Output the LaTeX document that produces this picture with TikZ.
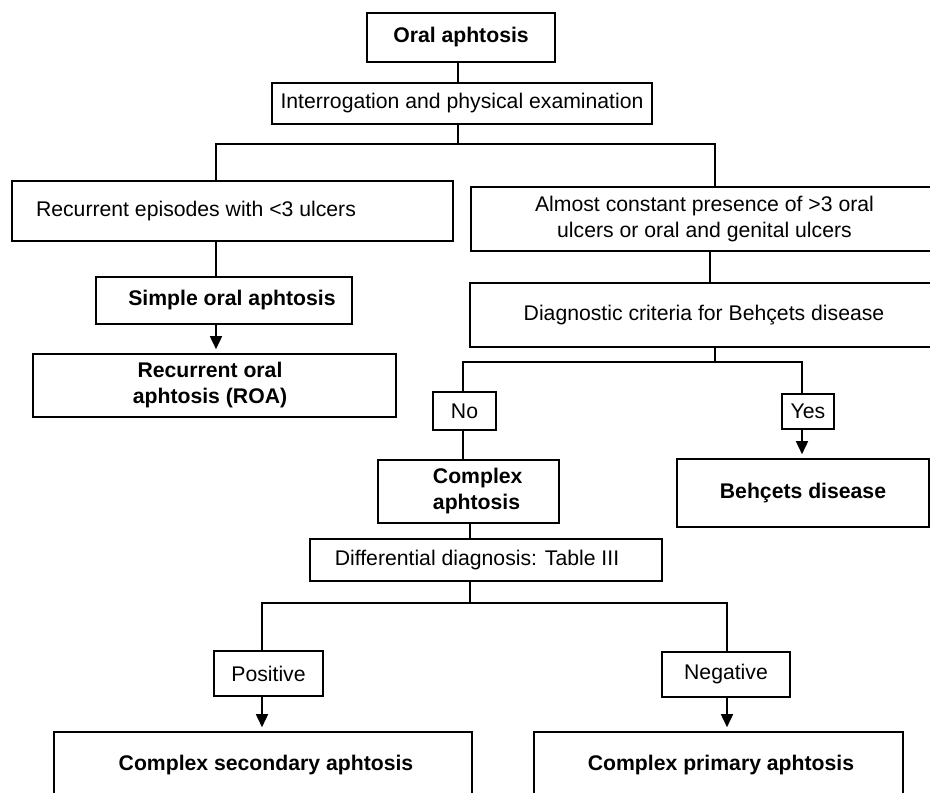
\documentclass[tikz,border=0pt]{standalone}
\usepackage{fontspec}
\setmainfont{Liberation Sans}
\usetikzlibrary{arrows.meta}
\begin{document}
\begin{tikzpicture}[x=1pt,y=-1pt,
  box/.style={draw, line width=1.6pt, inner sep=0pt, align=center, font=\fontsize{21.2pt}{26pt}\selectfont},
  bbox/.style={box, font=\fontsize{21.2pt}{26pt}\selectfont\bfseries},
  conn/.style={line width=1.6pt},
  arr/.style={conn, -{Triangle[width=12pt,length=13pt]}, shorten >=4pt}]
\useasboundingbox (0,0) rectangle (930,793);
\clip (0,0) rectangle (930,793);

% boxes
\node[bbox, minimum width=188pt, minimum height=49pt] (oral) at (461,37.5) {Oral aphtosis};
\node[box, minimum width=380pt, minimum height=41pt] (interro) at (462,103.5) {Interrogation and physical examination};
\node[box, minimum width=441pt, minimum height=60pt] (rec) at (232.5,211) {Recurrent episodes with <3 ulcers\hspace*{73pt}};
\node[box, minimum width=467pt, minimum height=64pt] (almost) at (704.5,219) {Almost constant presence of >3 oral\\ulcers or oral and genital ulcers};
\node[bbox, minimum width=256pt, minimum height=47pt] (simple) at (224,300.5) {\hspace*{16pt}Simple oral aphtosis};
\node[bbox, minimum width=363pt, minimum height=63pt] (roa) at (214.5,385.5) {Recurrent oral\hspace*{9pt}\\aphtosis (ROA)\hspace*{9pt}};
\node[box, minimum width=468pt, minimum height=64pt] (diag) at (704,315) {Diagnostic criteria for Behçets disease};
\node[box, minimum width=63pt, minimum height=38pt] (no) at (464.5,411) {No};
\node[box, minimum width=52pt, minimum height=35pt] (yes) at (808,411.5) {Yes};
\node[bbox, align=left, minimum width=181pt, minimum height=63pt] (complex) at (468.5,491.5) {\hspace*{18.5pt}Complex\\\hspace*{18.5pt}aphtosis};
\node[bbox, minimum width=252pt, minimum height=68pt] (behcet) at (803,493) {Behçets disease};
\node[box, minimum width=352pt, minimum height=42pt] (diff) at (486,560) {Differential diagnosis: Table III\hspace*{18pt}};
\node[box, minimum width=109pt, minimum height=45pt] (pos) at (268.5,673.5) {Positive};
\node[box, minimum width=128pt, minimum height=45pt] (neg) at (726,674.5) {Negative};
\node[bbox, minimum width=418pt, minimum height=66pt] (csec) at (263,765) {\hspace*{6pt}Complex secondary aphtosis};
\node[bbox, minimum width=369pt, minimum height=66pt] (cprim) at (718.5,765) {\hspace*{5pt}Complex primary aphtosis};

% junction coordinates
\coordinate (c1) at (458,144);
\coordinate (bl) at (216,144);
\coordinate (br) at (715,144);
\coordinate (xr) at (710,300);
\coordinate (c2) at (715,362);
\coordinate (nl) at (463,362);
\coordinate (nr) at (802,362);
\coordinate (c3) at (470,603);
\coordinate (pl) at (262,603);
\coordinate (pr) at (727,603);

% connectors
\draw[conn] (c1 |- oral.south) -- (c1 |- interro.north);
\draw[conn] (c1 |- interro.south) -- (c1);
\draw[conn] (rec.north -| bl) -- (bl) -- (br) -- (almost.north -| br);
\draw[conn] (rec.south -| bl) -- (simple.north -| bl);
\draw[arr] (simple.south -| bl) -- (roa.north -| bl);
\draw[conn] (almost.south -| xr) -- (diag.north -| xr);
\draw[conn] (diag.south -| c2) -- (c2);
\draw[conn] (no.north -| nl) -- (nl) -- (nr) -- (yes.north -| nr);
\draw[conn] (no.south -| nl) -- (complex.north -| nl);
\draw[arr] (yes.south -| nr) -- (behcet.north -| nr);
\draw[conn] (complex.south -| c3) -- (diff.north -| c3);
\draw[conn] (diff.south -| c3) -- (c3);
\draw[conn] (pos.north -| pl) -- (pl) -- (pr) -- (neg.north -| pr);
\draw[arr] (pos.south -| pl) -- (csec.north -| pl);
\draw[arr] (neg.south -| pr) -- (cprim.north -| pr);
\end{tikzpicture}
\end{document}
